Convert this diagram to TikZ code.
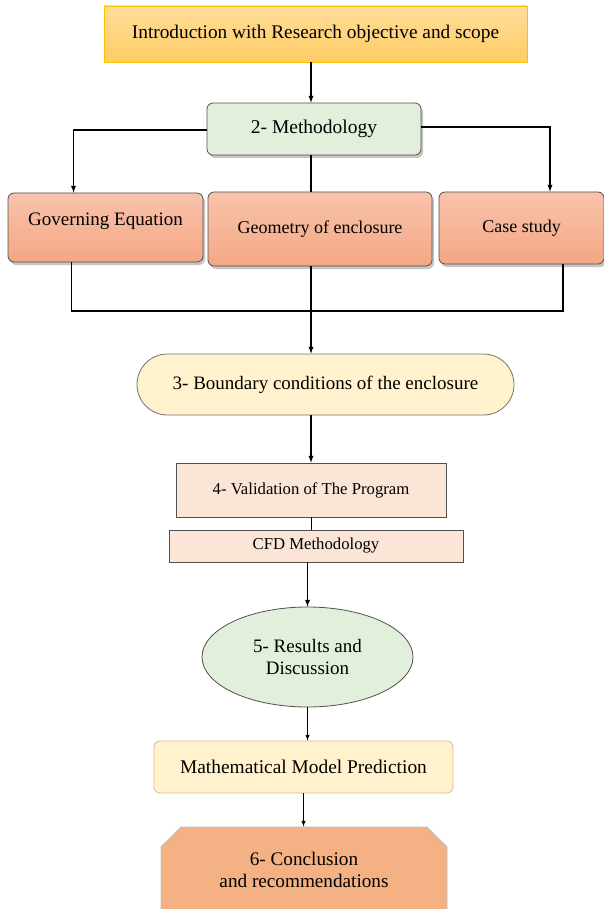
\documentclass[tikz,border=0pt]{standalone}
\usepackage{fontspec}
\setmainfont{Liberation Serif}
\usetikzlibrary{arrows,positioning,shapes,shadows,calc}
\definecolor{introtop}{HTML}{FFDD99}
\definecolor{introbot}{HTML}{FFCC66}
\definecolor{introline}{HTML}{FFC000}
\definecolor{greenfill}{HTML}{E2EFDA}
\definecolor{salmontop}{HTML}{F8C3AB}
\definecolor{salmonbot}{HTML}{F4A784}
\definecolor{creamfill}{HTML}{FFF2CC}
\definecolor{peachfill}{HTML}{FBE5D6}
\definecolor{orangefill}{HTML}{F4B183}
\definecolor{boxline}{HTML}{505050}

\begin{document}
\begin{tikzpicture}[x=1pt,y=-1pt,>=latex,line width=1.3pt,
  box/.style={draw=boxline,line width=0.8pt,align=center,inner sep=2pt,font=\fontsize{19}{22}\selectfont},
  intro node/.style={box,draw=introline,top color=introtop,bottom color=introbot},
  step node/.style={box,rounded corners=6pt,drop shadow={shadow xshift=2pt,shadow yshift=-3pt,opacity=0.45}},
  sub node/.style={step node,top color=salmontop,bottom color=salmonbot},
  flat node/.style={box,fill=peachfill,font=\fontsize{16.7}{19}\selectfont}]
\clip (0,0) rectangle (604,909);
\begin{scope}
\node[intro node,minimum width=423pt,minimum height=56pt,font=\fontsize{19.3}{22}\selectfont] (intro) at (315.5,34) {Introduction with Research objective and scope};
\node[step node,fill=greenfill,minimum width=214pt,minimum height=52pt,font=\fontsize{19.5}{22}\selectfont] (meth) at (314,129) {2- Methodology};
\node[sub node,minimum width=195pt,minimum height=69pt] (gov) at (105.5,227.5) {\raisebox{16pt}{Governing Equation}};
\node[sub node,minimum width=224pt,minimum height=74pt,font=\fontsize{18}{21}\selectfont] (geo) at (320,229) {Geometry of enclosure};
\node[sub node,minimum width=165pt,minimum height=72pt,font=\fontsize{18}{21}\selectfont] (case) at (521.5,228) {Case study};
\node[box,rounded rectangle,fill=creamfill,draw=boxline!80,minimum width=381pt,minimum height=61pt] (bound) at (325.5,384.5) {3- Boundary conditions of the enclosure};
\node[flat node,minimum width=270pt,minimum height=54pt] (valid) at (311,490) {4- Validation of The Program};
\node[flat node,minimum width=294pt,minimum height=32pt] (cfd) at (316,546) {CFD Methodology};
\node[box,ellipse,fill=greenfill,draw=boxline,minimum width=211pt,minimum height=100pt,font=\fontsize{19}{22}\selectfont] (res) at (307.5,657) {5- Results and\\Discussion};
\node[box,rounded corners=6pt,fill=creamfill,draw=orangefill,minimum width=299pt,minimum height=52pt,font=\fontsize{19.4}{22}\selectfont] (math) at (303.5,767) {Mathematical Model Prediction};
\node[box,chamfered rectangle,chamfered rectangle corners={north east,north west},chamfered rectangle xsep=10pt,chamfered rectangle ysep=10pt,fill=orangefill,draw=gray!50,minimum width=286pt,minimum height=85pt,font=\fontsize{19.2}{22}\selectfont] (concl) at (304,869.5) {6- Conclusion\\and recommendations};
\end{scope}
\begin{scope}
\draw[->] ([xshift=-3]intro.south -| meth.north) -- ([xshift=-3]meth.north);
\draw[->] ([yshift=-1]meth.west) -| ([xshift=-32]gov.north);
\draw[->] ([yshift=2]meth.east) -| ([xshift=28.5]case.north);
\draw ([xshift=-3]meth.south) -- ([xshift=-3]meth.south |- geo.north);
\coordinate (merge) at (311,311);
\draw ([xshift=-34]gov.south) |- (merge) -| ([xshift=41.5]case.south);
\draw[->] ([xshift=-3]meth.south |- geo.south) -- ([xshift=-3]meth.south |- bound.north);
\draw[->] (bound.south -| valid.north) -- (valid.north);
\draw[line width=1pt] (valid.south) -- (valid.south |- cfd.north);
\draw[->] (cfd.south -| res.north) -- (res.north);
\draw[->,line width=1pt] (res.south) -- (res.south |- math.north);
\draw[->,line width=1pt] (math.south) -- (math.south |- concl.north);
\end{scope}
\end{tikzpicture}
\end{document}
